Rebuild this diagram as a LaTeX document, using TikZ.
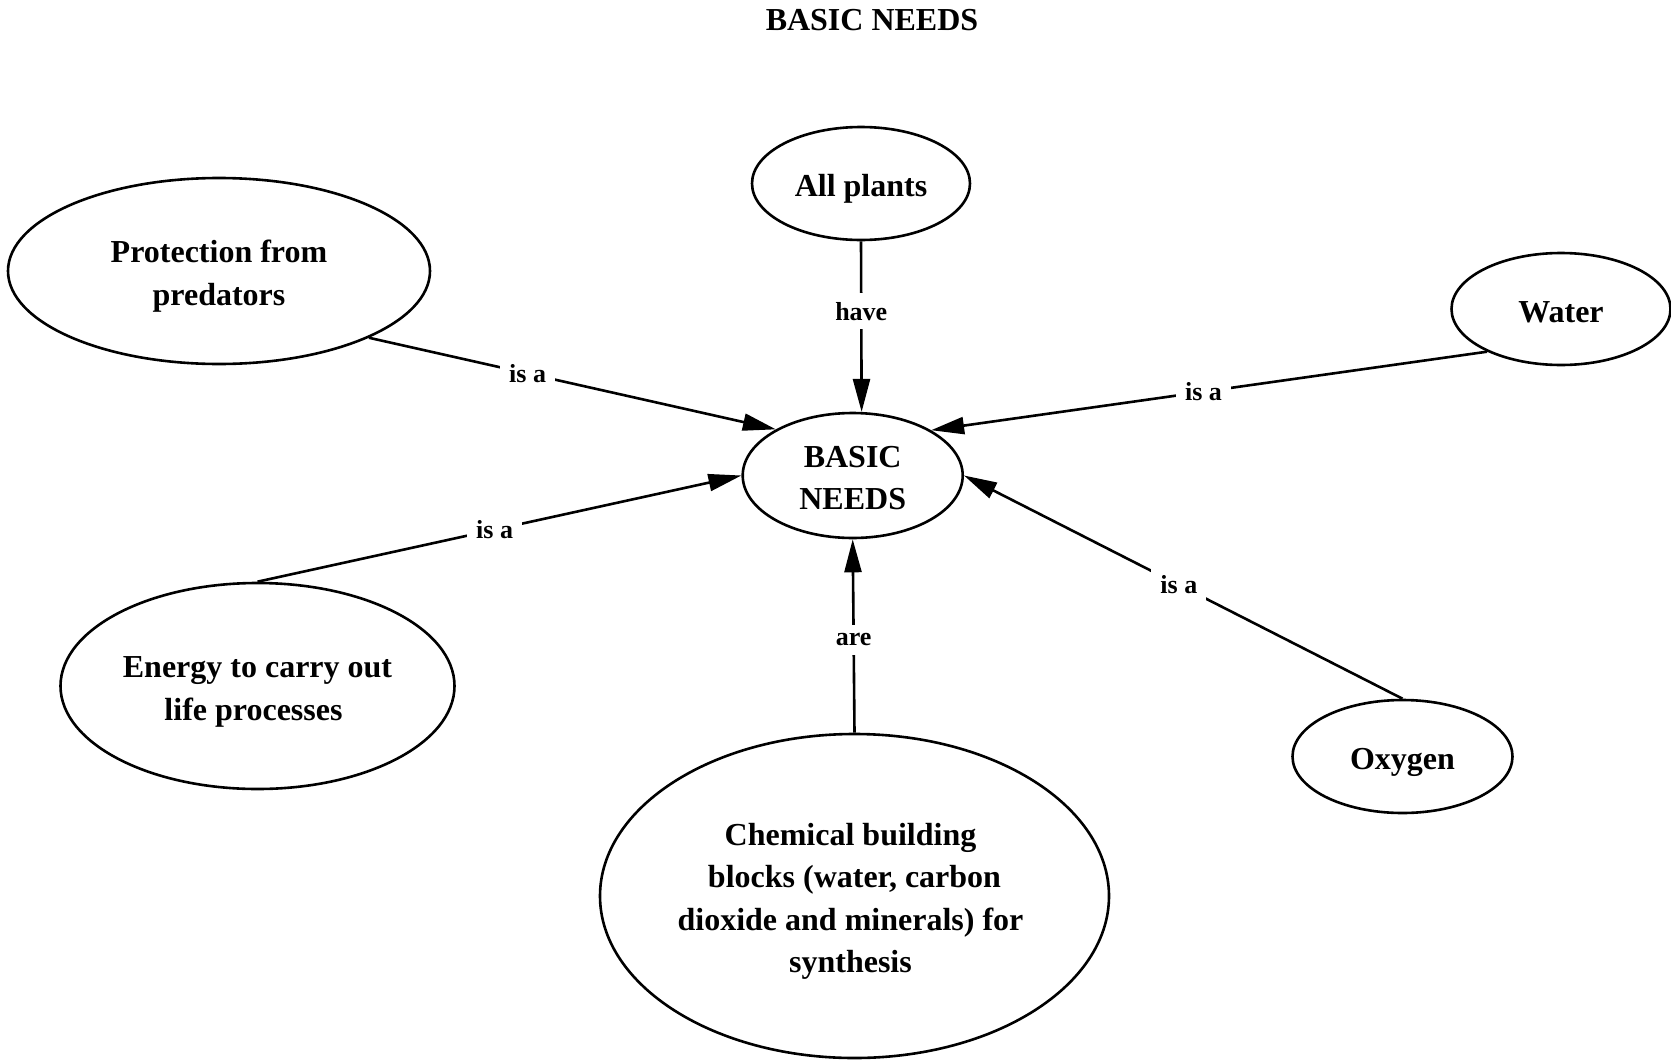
\documentclass[tikz,border=0pt]{standalone}
\usepackage{fontspec}
\setmainfont{Liberation Serif}
\usetikzlibrary{shapes.geometric,arrows.meta}
% a space that survives at the end of a centred line
\newcommand\trailsp{\hphantom{\ }}
% fixed ascent for the first line of a concept
\newcommand\topstrut{\rule{0pt}{16.5pt}}
\begin{document}
\begin{tikzpicture}[x=0.5pt,y=-0.5pt,
  concept/.style={ellipse,draw,line width=1.3pt,inner sep=0pt,align=center,
    font=\fontsize{16}{21.3}\selectfont\bfseries,
    execute at end node={\rule[-3.5pt]{0pt}{0pt}}},
  link/.style={line width=1.3pt,-{Triangle[length=16.5pt,width=8.5pt]}},
  linklabel/.style={fill=white,inner sep=4.5pt,
    font=\fontsize{13}{15}\selectfont\bfseries}]
\useasboundingbox (0,0) rectangle (1671,1060);

% heading
\node[font=\fontsize{16}{20}\selectfont\bfseries] (title) at (872,20) {BASIC NEEDS};

% concepts
\node[concept,minimum width=109pt,minimum height=56.5pt] (plants) at (861,183.5) {\topstrut All plants};
\node[concept,minimum width=110pt,minimum height=62.5pt] (basic) at (852.7,475.5) {\topstrut BASIC\\NEEDS};
\node[concept,minimum width=211pt,minimum height=93pt] (prot) at (219,271) {\topstrut Protection from\\predators};
\node[concept,minimum width=197pt,minimum height=103pt] (energy) at (257.5,686)
  {\topstrut Energy to carry out\\life processes\trailsp};
\node[concept,minimum width=109.5pt,minimum height=56pt] (water) at (1561,309) {\topstrut Water};
\node[concept,minimum width=110pt,minimum height=56.5pt] (oxygen) at (1402.5,756.5) {\topstrut Oxygen};
\node[concept,minimum width=254.5pt,minimum height=162pt] (chem) at (854.5,896)
  {\topstrut Chemical building\trailsp\\\ blocks (water, carbon\trailsp\\dioxide and minerals) for\trailsp\\synthesis\trailsp};

% links
\draw[link] (plants.-90) -- node[linklabel,pos=0.41] {have} (basic.82.4);
\draw[link] (prot.-24.5) -- node[linklabel,pos=0.39] {is a} (basic.149.7);
\draw[link] (energy.90) -- node[linklabel,pos=0.49] {is a} (basic.180);
\draw[link] (water.210.6) -- node[linklabel,pos=0.51] {is a} (basic.30);
\draw[link] (oxygen.90) -- node[linklabel,pos=0.51] {is a} (basic.0);
\draw[link] (chem.90) -- node[linklabel,pos=0.48] {are} (basic.-90);
\end{tikzpicture}
\end{document}
